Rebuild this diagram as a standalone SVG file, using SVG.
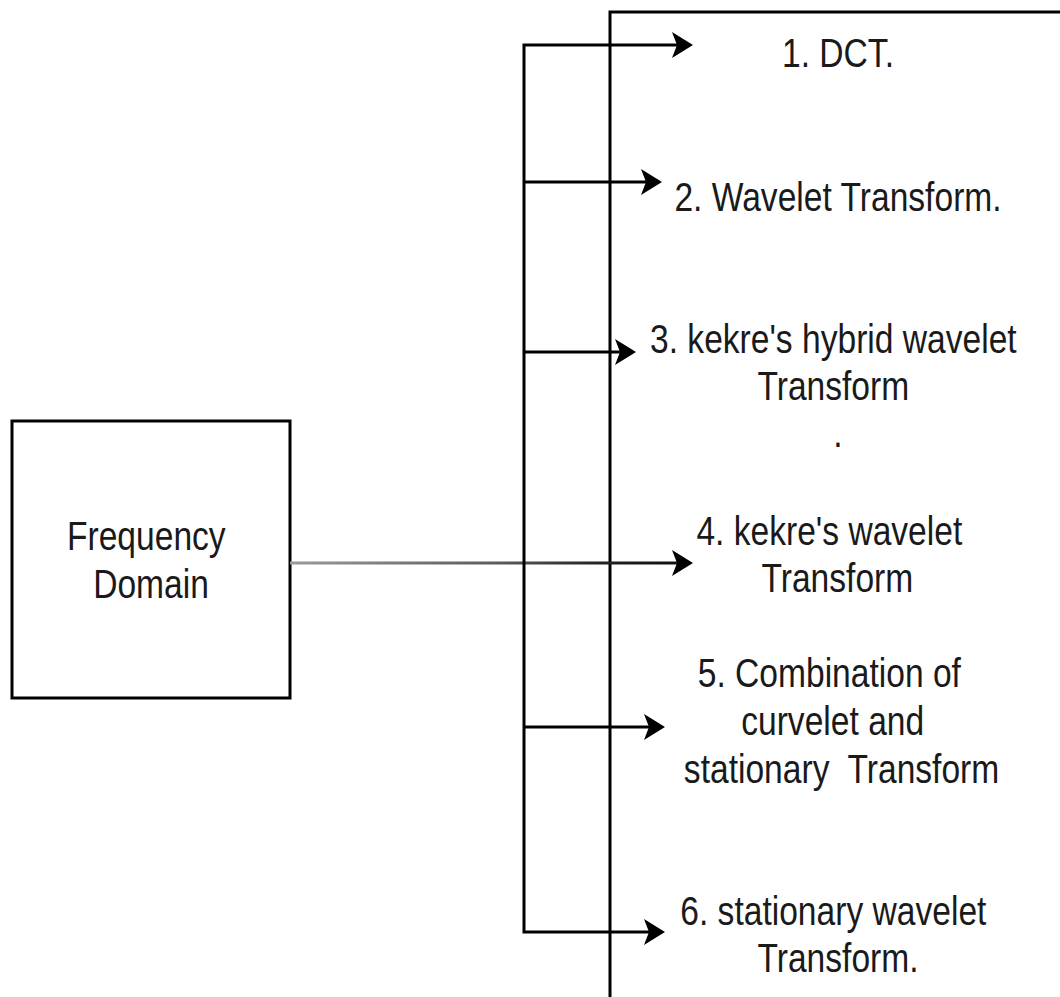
<svg xmlns="http://www.w3.org/2000/svg" width="1060" height="997" viewBox="0 0 1060 997">
  <style>
    .frame { fill: none; stroke: #000; stroke-width: 3; }
    .wire { fill: none; stroke: #000; stroke-width: 3; stroke-linejoin: miter; }
    .label { font-family: "Liberation Sans", Arial, sans-serif; font-size: 40px; fill: #1a1a1a; text-anchor: middle; }
  </style>
  <defs>
    <marker id="head" viewBox="0 0 21 28" refX="5" refY="14" markerWidth="21" markerHeight="28" markerUnits="userSpaceOnUse" orient="auto">
      <path d="M0,1 L21,14 L0,27 L5,14 Z" fill="#000"/>
    </marker>
    <linearGradient id="feed" gradientUnits="userSpaceOnUse" x1="290" y1="0" x2="677" y2="0">
      <stop offset="0" stop-color="#9a9a9a"/>
      <stop offset="0.55" stop-color="#5a5a5a"/>
      <stop offset="0.8" stop-color="#222"/>
      <stop offset="1" stop-color="#111"/>
    </linearGradient>
  </defs>
  <rect width="1060" height="997" fill="#fff"/>

  <!-- source block -->
  <g id="node-frequency-domain">
    <rect class="frame" x="12" y="421" width="278" height="277"/>
    <text class="label" transform="translate(151,550) scale(0.84,1)">
      <tspan x="0" y="0">Frequency</tspan>
      <tspan x="0" y="48">Domain</tspan>
    </text>
  </g>

  <!-- list of transform methods (box runs past the right and bottom edges) -->
  <g id="node-methods">
    <path class="frame" d="M1062,12 H610 V999"/>
    <text class="label" transform="translate(838,67) scale(0.84,1)">1. DCT.</text>
    <text class="label" transform="translate(838,211) scale(0.84,1)">2. Wavelet Transform.</text>
    <text class="label" transform="translate(838,353) scale(0.84,1)">
      <tspan x="0" y="0">3. kekre's hybrid wavelet</tspan>
      <tspan x="0" y="47">Transform</tspan>
      <tspan x="0" y="94">.</tspan>
    </text>
    <text class="label" transform="translate(834,545) scale(0.84,1)">
      <tspan x="0" y="0">4. kekre's wavelet</tspan>
      <tspan x="4" y="47">Transform</tspan>
    </text>
    <text class="label" transform="translate(834,687) scale(0.84,1)">
      <tspan x="0" y="0">5. Combination of</tspan>
      <tspan x="4" y="48">curvelet and</tspan>
      <tspan x="9" y="96" xml:space="preserve">stationary  Transform</tspan>
    </text>
    <text class="label" transform="translate(838,925) scale(0.84,1)">
      <tspan x="0" y="0">6. stationary wavelet</tspan>
      <tspan x="0" y="47">Transform.</tspan>
    </text>
  </g>

  <!-- connectors: feed line, distribution bus and branches -->
  <g id="connectors">
    <path d="M290,563 H677" stroke="url(#feed)" stroke-width="3" fill="none" marker-end="url(#head)"/>
    <path class="wire" d="M524,563 V45 H677" marker-end="url(#head)"/>
    <path class="wire" d="M524,182 H646" marker-end="url(#head)"/>
    <path class="wire" d="M524,352 H620" marker-end="url(#head)"/>
    <path class="wire" d="M524,727 H649" marker-end="url(#head)"/>
    <path class="wire" d="M524,563 V932 H649" marker-end="url(#head)"/>
  </g>
</svg>
